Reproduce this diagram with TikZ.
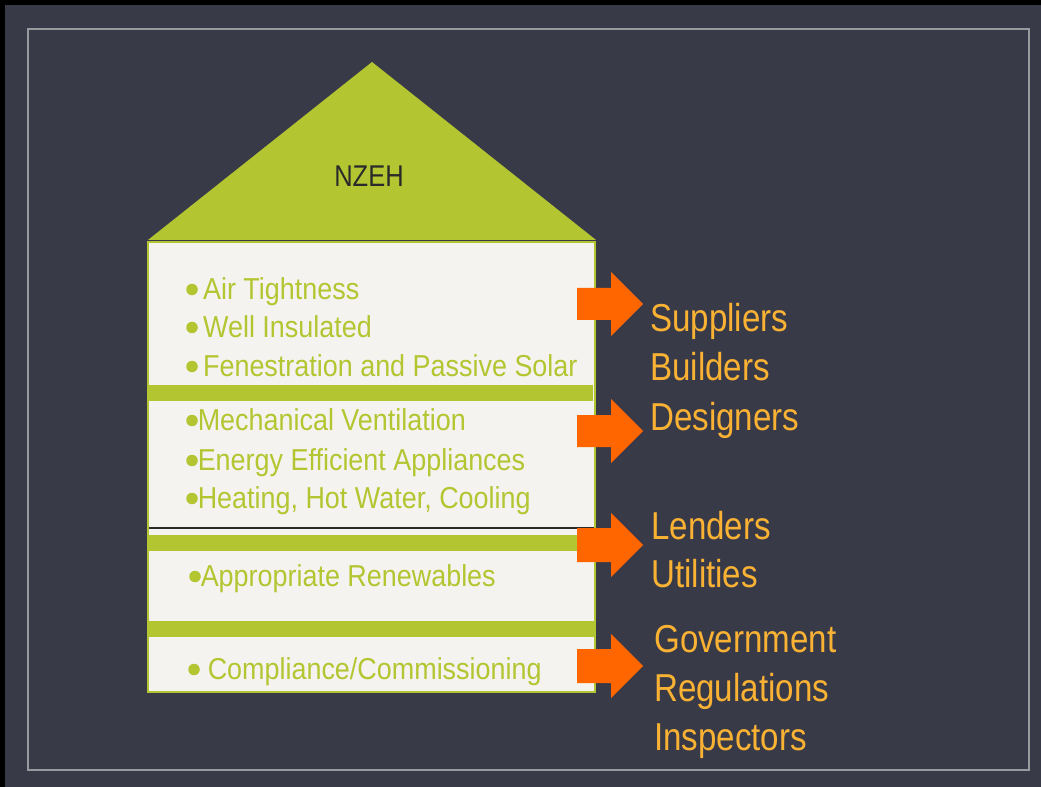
\documentclass[tikz,border=0pt]{standalone}
\usepackage{fontspec}
\setmainfont{Liberation Sans}[FakeStretch=0.85]
\newfontfamily\itemfont{Liberation Sans}[FakeStretch=0.89]
\definecolor{bgdark}{HTML}{393A48}
\definecolor{framegray}{HTML}{9A9A9E}
\definecolor{leaf}{HTML}{B3C631}
\definecolor{paper}{HTML}{F5F3F0}
\definecolor{arroworange}{HTML}{FF6600}
\definecolor{labelorange}{HTML}{F9B233}
\definecolor{ink}{HTML}{2A2A2A}
\newcommand\dotb{\tikz[baseline=0pt]\fill (0.17em,0.33em) circle (0.19em);}
\tikzset{
  item/.style={anchor=base west,inner sep=0pt,text=leaf,font=\itemfont\fontsize{22.7}{27}\selectfont},
  actor/.style={anchor=base west,inner sep=0pt,text=labelorange,font=\fontsize{29.2}{35}\selectfont},
  band/.style={fill=leaf,draw=none},
  bigarrow/.style={fill=arroworange,draw=none}
}
\begin{document}
\begin{tikzpicture}[x=0.75pt,y=-0.75pt]
\useasboundingbox (0,0) rectangle (1041,787);
% background
\fill[black] (0,0) rectangle (1041,787);
\fill[bgdark] (5,5) rectangle (1041,787);
\draw[framegray,line width=1.5pt] (28,29) rectangle (1029,770);
% roof
\fill[leaf] (148,240) -- (372,62) -- (596,240) -- cycle;
\node[inner sep=0pt,text=ink,font=\fontsize{22.5}{27}\selectfont,anchor=base] (nzeh) at (369,187) {NZEH};
% body
\draw[leaf,fill=paper,line width=2pt] (148,242) rectangle (595,692);
% bands
\fill[band] (147,385) rectangle (593,401);
\draw[ink,line width=0.8pt] (149,528) -- (594,528);
\fill[band] (149,535) rectangle (590,551);
\fill[band] (149,621) rectangle (594,637);
% arrows
\foreach \t/\m in {288/304,415/431,528/545,649/666}{
  \fill[bigarrow] (577,\t) -- (611,\t) -- (611,\m-32) -- (643,\m) -- (611,\m+32) -- (611,2*\m-\t) -- (577,2*\m-\t) -- cycle;
}
% items
\node[item] (i1) at (186,299.5) {\dotb\hspace{4pt}Air Tightness};
\node[item] (i2) at (186,337.5) {\dotb\hspace{4pt}Well Insulated};
\node[item] (i3) at (186,376.5) {\dotb\hspace{4pt}Fenestration and Passive Solar};
\node[item] (i4) at (186,430.5) {\dotb\hspace{0pt}Mechanical Ventilation};
\node[item] (i5) at (186,470.5) {\dotb\hspace{0pt}Energy Efficient Appliances};
\node[item] (i6) at (186,508.5) {\dotb\hspace{0pt}Heating, Hot Water, Cooling};
\node[item] (i7) at (189,586.5) {\dotb\hspace{0pt}Appropriate Renewables};
\node[item] (i8) at (188,679.5) {\dotb\hspace{6pt}Compliance/Commissioning};
% actors
\node[actor] (a1) at (650,332) {Suppliers};
\node[actor] (a2) at (650,381) {Builders};
\node[actor] (a3) at (650,430) {Designers};
\node[actor] (a4) at (651,539) {Lenders};
\node[actor] (a5) at (651,587) {Utilities};
\node[actor] (a6) at (654,652) {Government};
\node[actor] (a7) at (654,701) {Regulations};
\node[actor] (a8) at (654,750) {Inspectors};
\end{tikzpicture}
\end{document}
